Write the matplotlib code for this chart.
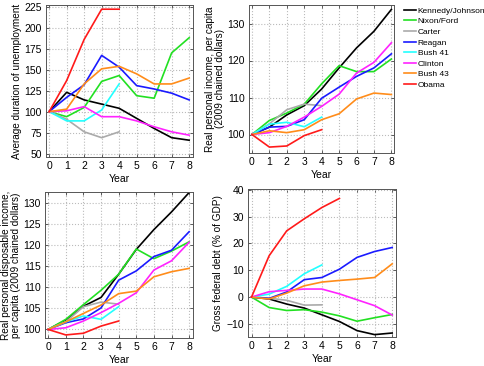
import matplotlib
matplotlib.use("Agg")
import matplotlib.pyplot as plt

plt.rcParams['font.family'] = ['Liberation Sans', 'DejaVu Sans']

names = ["Kennedy/Johnson", "Nixon/Ford", "Carter", "Reagan", "Bush 41", "Clinton", "Bush 43", "Obama"]
colors = ["#000000", "#22e022", "#aaaaaa", "#1a1aff", "#22ffff", "#ff22ff", "#ff8c1a", "#ff1a1a"]

# Average duration of unemployment (index)
unemp = {
    "Kennedy/Johnson": [100, 123, 114, 109, 104, 92, 80, 69, 66],
    "Nixon/Ford": [100, 94, 105, 136, 143, 119, 116, 170, 188],
    "Carter": [100, 91, 76, 69, 76],
    "Reagan": [100, 117, 132, 167, 153, 131, 127, 122, 114],
    "Bush 41": [100, 89, 89, 102, 133],
    "Clinton": [100, 101, 106, 94, 94, 89, 82, 76, 72],
    "Bush 43": [100, 103, 133, 151, 154, 145, 133, 133, 140],
    "Obama": [100, 137, 186, 222, 222],
}

# Real personal income per capita (index)
income = {
    "Kennedy/Johnson": [100, 102, 105.3, 107.8, 112.3, 118, 123.4, 127.9, 133.8],
    "Nixon/Ford": [100, 103.8, 105.8, 108.2, 113.7, 118.6, 117, 117, 120.4],
    "Carter": [100, 102.9, 106.7, 108.2, 107.8],
    "Reagan": [100, 102, 102.2, 104, 109.8, 112.8, 115.7, 118, 121.8],
    "Bush 41": [100, 102.8, 103.3, 102.1, 104.7],
    "Clinton": [100, 100.5, 102.2, 104.7, 107.6, 110.9, 116.6, 119.5, 124.8],
    "Bush 43": [100, 101, 100.5, 101.3, 104, 105.6, 109.6, 111.2, 110.8],
    "Obama": [100, 96.6, 96.9, 99.7, 101.3],
}

# Real personal disposable income per capita (index)
disp = {
    "Kennedy/Johnson": [100, 102.2, 105.5, 107.6, 113.1, 119, 123.7, 127.9, 132.5],
    "Nixon/Ford": [100, 102.4, 105.9, 109.3, 113.1, 119.1, 116.8, 118.6, 120.8],
    "Carter": [100, 101.8, 105.4, 106.5, 106],
    "Reagan": [100, 101.6, 102.5, 105.1, 111.7, 113.9, 117.3, 118.8, 123.2],
    "Bush 41": [100, 101.8, 103.2, 102.4, 105.4],
    "Clinton": [100, 100.4, 102, 104, 106.2, 108.7, 114.1, 116.3, 120.7],
    "Bush 43": [100, 101.8, 103.8, 105.8, 108.5, 109.1, 112.5, 113.7, 114.5],
    "Obama": [100, 98.7, 99.1, 100.8, 102],
}

# Gross federal debt (change, % of GDP)
debt = {
    "Kennedy/Johnson": [0, -0.7, -2.6, -4.1, -6.6, -9.1, -12.5, -14, -13.4],
    "Nixon/Ford": [0, -3.9, -5, -4.7, -5.6, -7, -9, -7.7, -6.5],
    "Carter": [0, -0.4, -1.2, -3, -2.9],
    "Reagan": [0, -0.5, 1.9, 6.5, 7.3, 10.4, 14.8, 17, 18.5],
    "Bush 41": [0, 1.1, 4, 8.7, 12],
    "Clinton": [0, 2, 2.5, 3, 3, 1.2, -1, -3.2, -6.7],
    "Bush 43": [0, -0.7, 1.5, 4.2, 5.6, 6.2, 6.7, 7.3, 12.4],
    "Obama": [0, 15.4, 24.7, 29.2, 33.4, 36.8],
}

W, H = 484, 366
fig = plt.figure(figsize=(W / 100, H / 100), dpi=100)


def make_ax(l, r, t, b):
    return fig.add_axes([l / W, 1 - b / H, (r - l) / W, (b - t) / H])


def style(ax, xlim, ylim, yticks, ylabel):
    ax.set_xlim(*xlim)
    ax.set_ylim(*ylim)
    ax.set_xticks(range(0, 9))
    ax.set_yticks(yticks)
    ax.grid(True, color="#bbbbbb", linestyle=":", linewidth=0.8)
    ax.tick_params(direction="in", length=2.5, width=0.6, labelsize=7.5, pad=3,
                   top=True, right=True, color="#444444")
    for s in ax.spines.values():
        s.set_color("#555555")
        s.set_linewidth(0.7)
    ax.set_xlabel("Year", fontsize=7.5, labelpad=2)
    ax.set_ylabel(ylabel, fontsize=7.2, labelpad=2, linespacing=0.95)


def plot_data(ax, data):
    lines = []
    for n, c in zip(names, colors):
        v = data[n]
        ln, = ax.plot(range(len(v)), v, color=c, lw=1.2, label=n)
        lines.append(ln)
    return lines


ax1 = make_ax(46, 193, 5, 157)
plot_data(ax1, unemp)
style(ax1, (-0.18, 8.22), (46, 227), range(50, 226, 25), "Average duration of unemployment")

ax2 = make_ax(249, 394, 5, 153)
lines = plot_data(ax2, income)
style(ax2, (-0.17, 8.15), (95, 135), [100, 110, 120, 130],
      "Real personal income, per capita\n(2009 chained dollars)")

ax3 = make_ax(45, 193, 191.7, 338.3)
plot_data(ax3, disp)
style(ax3, (-0.18, 8.22), (97.9, 132.7), range(100, 131, 5),
      "Real personal disposable income,\nper capita (2009 chained dollars)")

ax4 = make_ax(248, 395.7, 189.3, 337.3)
plot_data(ax4, debt)
style(ax4, (-0.2, 8.2), (-15, 40.2), range(-10, 41, 10), "Gross federal debt (% of GDP)")

fig.legend(handles=lines, labels=names, loc="upper left",
           bbox_to_anchor=(404 / W, 1 - 7 / H), frameon=False, fontsize=6.0,
           handlelength=1.45, handletextpad=0.2, labelspacing=0.33, borderaxespad=0,
           borderpad=0)

fig.savefig("out.png", dpi=100)
